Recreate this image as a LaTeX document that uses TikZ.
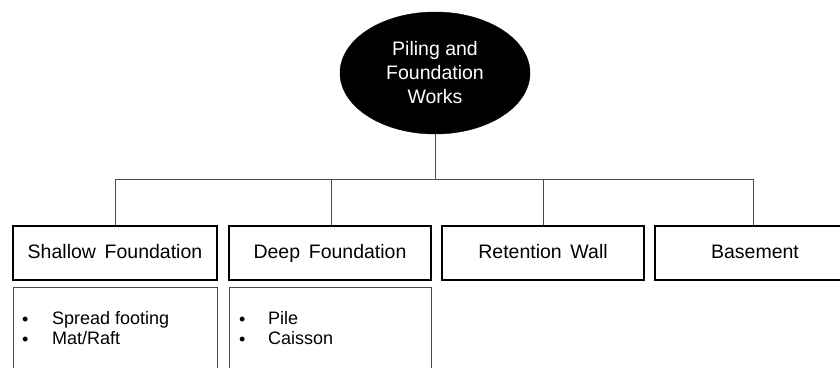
\documentclass[tikz,border=0pt]{standalone}
\usepackage{fontspec}
\setmainfont{Liberation Sans}
\usetikzlibrary{shapes.geometric}
\begin{document}
\begin{tikzpicture}[x=1pt,y=-1pt,
  catbox/.style={draw=black,line width=2pt,minimum height=54pt,inner sep=0pt,
    text height=14pt,text depth=3pt,font=\fontsize{19.5}{23}\selectfont},
  listbox/.style={draw=black!70,line width=1pt},
  link/.style={draw=black!70,line width=1pt},
  item/.style={anchor=west,inner sep=0pt,text height=13pt,text depth=4pt,
    font=\fontsize{18}{20}\selectfont}]
\useasboundingbox (0,0) rectangle (840,367);
\clip (0,0) rectangle (840,367);

% root
\node[ellipse,fill=black,draw=black,minimum width=190pt,minimum height=122pt,
  text=white,align=center,font=\fontsize{19.5}{24}\selectfont] (root) at (435,73)
  {Piling and\\Foundation\\Works};

% categories
\node[catbox,minimum width=204pt] (shallow) at (115,253) {Shallow\ \,Foundation};
\node[catbox,minimum width=202pt] (deep) at (330,253) {Deep\ \,Foundation};
\node[catbox,minimum width=202pt] (ret) at (543,253) {Retention\ \,Wall};
\node[catbox,minimum width=200pt] (base) at (755,253) {Basement};

% list boxes below
\draw[listbox] (13,420) -- (13,287) -- (217,287) -- (217,420);
\draw[listbox] (229,420) -- (229,287) -- (431,287) -- (431,420);
\node[item] (b1) at (22,321) {•};
\node[item] (t1) at (52,320) {Spread footing};
\node[item] (b2) at (22,341) {•};
\node[item] (t2) at (52,340) {Mat/Raft};
\node[item] (b3) at (239,321) {•};
\node[item] (t3) at (268,320) {Pile};
\node[item] (b4) at (239,341) {•};
\node[item] (t4) at (268,340) {Caisson};

% connectors
\coordinate (hub) at (435,179);
\draw[link] (root.south) -- (hub);
\draw[link] (shallow.north -| 115,0) |- (hub);
\draw[link] (deep.north -| 331,0) -- (331,179);
\draw[link] (ret.north -| 543,0) -- (543,179);
\draw[link] (base.north -| 753,0) |- (hub);
\end{tikzpicture}
\end{document}
